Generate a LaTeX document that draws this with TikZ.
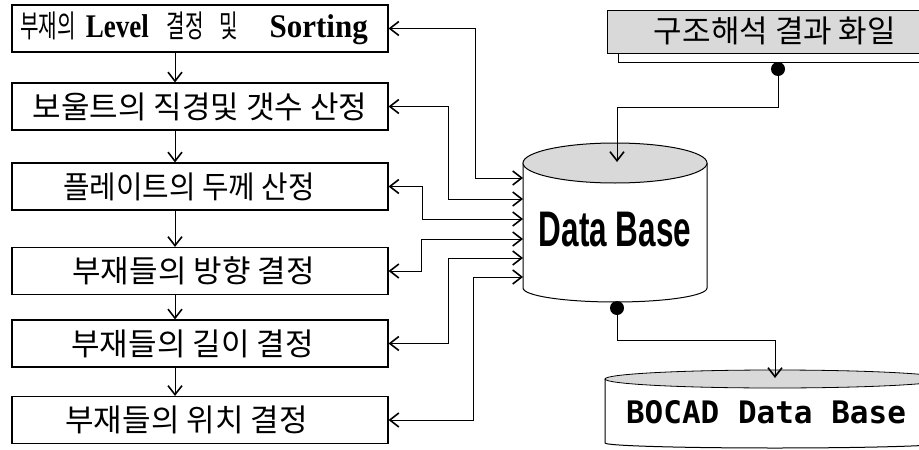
\documentclass[tikz,border=0pt]{standalone}
\usepackage{fontspec}
\setmainfont{Liberation Serif}
\newfontfamily\kr{Noto Sans CJK KR}
\newfontfamily\dbsans{Liberation Sans}
\newfontfamily\dbmono{DejaVu Sans Mono}
\usetikzlibrary{arrows.meta}
% pieces of the first step label, each narrowed on its own
\newcommand\krn[1]{\scalebox{0.65}[1]{\kr\fontsize{31}{34}\selectfont #1}}
\newcommand\latn[2]{\scalebox{#1}[1]{\rmfamily\bfseries\fontsize{33}{34}\selectfont #2}}
% horizontal stretch of a label
\newcommand\sx[2]{\scalebox{#1}[1]{#2}}
\tikzset{
  stepbox/.style={draw, line width=1.1pt, minimum width=376pt, minimum height=47pt,
    inner sep=0pt, font=\kr\fontsize{31}{34}\selectfont},
  link/.style={line width=0.9pt},
  dot/.style={circle, fill=black, inner sep=0pt, minimum size=14pt},
  shade/.style={fill=gray!30},
}
\begin{document}
\begin{tikzpicture}[x=1pt, y=-1pt,
  >={Straight Barb[length=9pt,width=14pt,line width=1.6pt]}]
\useasboundingbox (0,0) rectangle (919,450);
\clip (0,0) rectangle (919,450);

% process steps (a trailing kern moves a label a little to the left)
\node[stepbox] (b1) at (200,28.5) {\krn{부재의}\hspace{10pt}\latn{0.82}{Level}\hspace{18pt}%
  \krn{결정}\hspace{15pt}\krn{및}\hspace{32pt}\latn{0.94}{Sorting}\kern12pt};
\node[stepbox] (b2) at (200,106.5) {\sx{1.0}{보울트의 직경및 갯수 산정}};
\node[stepbox] (b3) at (200,186.5) {\sx{0.93}{플레이트의 두께 산정}\kern22pt};
\node[stepbox] (b4) at (200,271)   {\sx{1.0}{부재들의 방향 결정}\kern13pt};
\node[stepbox] (b5) at (200,343.5) {\sx{1.0}{부재들의 길이 결정}\kern15pt};
\node[stepbox] (b6) at (200,420)   {\sx{1.0}{부재들의 위치 결정}\kern27pt};

\foreach \a/\b in {b1/b2, b2/b3, b3/b4, b4/b5, b5/b6}
  \draw[link,->] ([xshift=-25pt]\a.south) -- ([xshift=-25pt]\b.north);

% central database
\coordinate (in1) at (523,178);
\coordinate (in2) at (523,199);
\coordinate (in3) at (523,219);
\coordinate (in4) at (523,239);
\coordinate (in5) at (523,258);
\coordinate (in6) at (523,277);
\coordinate (dbtop) at (617,162);

\draw[line width=1pt] (523,163) -- (523,288)
  arc[start angle=180, end angle=360, x radius=92pt, y radius=14pt] -- (707,163);
\draw[shade, line width=1pt] (615,163) ellipse [x radius=92pt, y radius=20pt];
\node (db) at (615,230) {\dbsans\bfseries\fontsize{50}{50}\selectfont\scalebox{0.63}[1]{Data Base}};
\node[dot] (dbdot) at (617,308) {};

% links between steps and database
\draw[link,<->] (b1.east) -- ++(87,0) |- (in1);
\draw[link,<->] (b2.east) -- ++(60,0) |- (in2);
\draw[link,<->] (b3.east) -- ++(34,0) |- (in3);
\draw[link,<->] (b4.east) -- ++(33,0) |- (in4);
\draw[link,<->] (b5.east) -- ++(60,0) |- (in5);
\draw[link,<->] (b6.east) -- ++(85,0) |- (in6);

% analysis result file
\draw[shade, line width=1pt] (607,10) rectangle (930,53);
\draw[line width=1pt] (618,53) -- (618,62) -- (930,62);
\node (res) at (775,31) {\kr\fontsize{31}{34}\selectfont 구조해석 결과 화일};
\node[dot] (resdot) at (778,69) {};
\draw[link,->] (resdot.center) -- (778,107) -| (dbtop);

% BOCAD database
\coordinate (bctop) at (775,378);
\draw[line width=1pt] (605,379) -- (605,443)
  arc[start angle=180, end angle=360, x radius=170pt, y radius=5pt];
\draw[shade, line width=0.8pt] (775,379) ellipse [x radius=170pt, y radius=9pt];
\node (bocad) at (766,412) {\dbmono\bfseries\fontsize{31}{31}\selectfont BOCAD Data Base};
\draw[link,->] (dbdot.center) -- (617,340) -| (bctop);
\end{tikzpicture}
\end{document}
